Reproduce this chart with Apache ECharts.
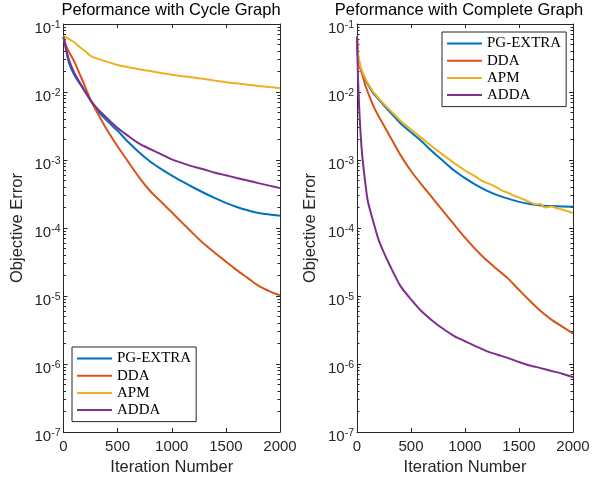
<!DOCTYPE html>
<html><head><meta charset="utf-8">
<script src="https://cdn.jsdelivr.net/npm/echarts@6/dist/echarts.min.js"></script>
<style>html,body{margin:0;padding:0;background:#fff}#c{width:592px;height:479px}</style>
</head><body><div id="c"></div>
<script>
const seriesNames = ['PG-EXTRA', 'DDA', 'APM', 'ADDA'];
const seriesColors = ['#0072BD', '#D95319', '#EDB120', '#7E2F8E'];
const titles = ['Peformance with Cycle Graph', 'Peformance with Complete Graph'];
const xTickValues = [0, 500, 1000, 1500, 2000];

// Left: cycle graph
const itersLeft = [0,20,50,100,150,200,250,300,400,500,600,700,800,900,1000,1100,1200,1300,1400,1500,1600,1700,1800,1900,2000];
const pgExtraLeft = [0.065,0.045,0.027,0.0178,0.0133,0.0100,0.0075,0.0057,0.0038,0.00269,0.00182,0.00129,0.00095,0.00074,0.00059,0.00048,0.000394,0.000327,0.000275,0.000234,0.000204,0.000182,0.000166,0.000158,0.000152];
const ddaLeft = [0.065,0.05,0.039,0.028,0.0183,0.0119,0.0077,0.0054,0.0028,0.00158,0.00093,0.00055,0.00035,0.000245,0.00017,0.000118,0.000082,0.000058,0.000043,0.000032,0.000024,0.0000185,0.0000142,0.0000118,0.0000102];
const apmLeft = [0.066,0.064,0.060,0.054,0.046,0.040,0.034,0.0315,0.028,0.025,0.0231,0.0216,0.0203,0.019,0.018,0.0171,0.0163,0.0155,0.0147,0.0139,0.0134,0.0128,0.0123,0.0118,0.0114];
const addaLeft = [0.065,0.046,0.030,0.019,0.0138,0.0102,0.0076,0.0060,0.00415,0.00295,0.00224,0.00174,0.00145,0.00122,0.00102,0.00090,0.00080,0.000725,0.00065,0.000595,0.000545,0.00050,0.000457,0.00042,0.000386];

// Right: complete graph
const itersRight = [0,5,10,20,35,50,75,100,150,200,250,300,400,500,600,700,800,900,1000,1100,1200,1300,1400,1500,1600,1700,1800,1900,2000];
const pgExtraRight = [0.065,0.042,0.034,0.027,0.022,0.019,0.0155,0.013,0.0096,0.0078,0.0063,0.0052,0.0035,0.00255,0.00187,0.00132,0.00096,0.0007,0.00054,0.00043,0.000355,0.000305,0.00027,0.000242,0.000225,0.000215,0.00021,0.000207,0.000206];
const addaRight = [0.065,0.03,0.015,0.006,0.0022,0.0011,0.00048,0.00025,0.000125,0.000067,0.000043,0.000029,0.0000142,0.0000089,0.0000059,0.0000043,0.00000327,0.00000257,0.00000216,0.00000182,0.00000155,0.00000137,0.00000122,0.00000107,0.00000095,0.00000087,0.00000079,0.00000072,0.00000064];
const itersDdaRight = [0,5,10,20,35,50,75,100,150,200,250,300,400,500,600,700,800,900,1000,1100,1200,1300,1380,1400,1500,1600,1700,1800,1900,2000];
const ddaRight = [0.065,0.04,0.032,0.026,0.021,0.0178,0.0128,0.0100,0.0063,0.0044,0.0032,0.0023,0.0012,0.00069,0.00043,0.000275,0.000175,0.000112,0.000072,0.000048,0.0000335,0.0000245,0.0000192,0.000018,0.0000123,0.0000085,0.000006,0.0000045,0.00000355,0.0000028];
const itersApmRight = [0,5,10,20,35,50,75,100,150,200,250,300,400,500,600,700,800,900,1000,1050,1100,1150,1200,1250,1300,1350,1400,1450,1500,1550,1600,1650,1700,1725,1750,1800,1850,1900,1950,2000];
const apmRight = [0.065,0.045,0.036,0.029,0.023,0.0198,0.016,0.0135,0.0100,0.0081,0.0066,0.0055,0.0038,0.0028,0.0021,0.00155,0.00118,0.0009,0.0007,0.00063,0.00057,0.0005,0.00046,0.00043,0.00039,0.00035,0.00033,0.0003,0.00028,0.00026,0.00024,0.000222,0.000225,0.000205,0.0002,0.000208,0.000195,0.000187,0.000176,0.000166];

const panels = [
  { iters: [itersLeft, itersLeft, itersLeft, itersLeft], values: [pgExtraLeft, ddaLeft, apmLeft, addaLeft], smooth: [0.25, 0.25, 0.15, 0.25] },
  { iters: [itersRight, itersDdaRight, itersApmRight, itersRight], values: [pgExtraRight, ddaRight, apmRight, addaRight], smooth: [0.25, 0.2, 0, 0.25] }
];

const minorLogTicks = [];
for (let e = -7; e < -1; e++) for (let k = 2; k <= 9; k++) minorLogTicks.push(e + Math.log10(k));

const axisColor = '#262626';
const grids = [
  { left: 63.5, top: 24, width: 216.5, height: 408 },
  { left: 357, top: 24, width: 216, height: 408 }
];
const titleCenters = [171, 459];
const legendPos = [{ left: 72, top: 347 }, { left: 442, top: 32 }];

const xAxes = [], yAxes = [], series = [], titleOpts = [], legends = [];
grids.forEach((g, gi) => {
  const line = { show: true, onZero: false, lineStyle: { color: axisColor, width: 1 } };
  xAxes.push({
    gridIndex: gi, type: 'value', position: 'bottom', min: 0, max: 2000, interval: 500,
    axisLine: line, splitLine: { show: false },
    axisTick: { inside: true, length: 4, lineStyle: { color: axisColor } },
    axisLabel: { margin: 7, color: axisColor, fontFamily: 'Liberation Sans', fontSize: 15, formatter: v => String(v) },
    name: 'Iteration Number', nameLocation: 'middle', nameGap: 23,
    nameTextStyle: { color: axisColor, fontFamily: 'Liberation Sans', fontSize: 16.5 }
  });
  xAxes.push({
    gridIndex: gi, type: 'value', position: 'top', min: 0, max: 2000, interval: 500,
    axisLine: line, splitLine: { show: false },
    axisTick: { inside: true, length: 4, lineStyle: { color: axisColor } },
    axisLabel: { show: false }
  });
  yAxes.push({
    gridIndex: gi, type: 'log', logBase: 10, position: 'left', min: 1e-7, max: 1e-1,
    axisLine: line, splitLine: { show: false }, minorTick: { show: false },
    axisTick: { inside: true, length: 4, lineStyle: { color: axisColor } },
    axisLabel: {
      margin: 3, color: axisColor, fontFamily: 'Liberation Sans',
      formatter: v => '{b|10}{s|' + Math.round(Math.log10(v)) + '}',
      rich: {
        b: { fontSize: 15, padding: [10, 0, 0, 0], verticalAlign: 'bottom', color: axisColor, fontFamily: 'Liberation Sans' },
        s: { fontSize: 10.5, padding: [0, 0, 6, 0], verticalAlign: 'bottom', color: axisColor, fontFamily: 'Liberation Sans' }
      }
    },
    name: 'Objective Error', nameLocation: 'middle', nameGap: 38,
    nameTextStyle: { color: axisColor, fontFamily: 'Liberation Sans', fontSize: 16.5 }
  });
  yAxes.push({
    gridIndex: gi, type: 'log', logBase: 10, position: 'right', min: 1e-7, max: 1e-1,
    axisLine: line, splitLine: { show: false },
    axisTick: { inside: true, length: 4, lineStyle: { color: axisColor } },
    axisLabel: { show: false }
  });
  ['left', 'right'].forEach(pos => {
    yAxes.push({
      gridIndex: gi, type: 'value', position: pos, min: -7, max: -1,
      axisLine: { show: false, onZero: false }, splitLine: { show: false }, axisLabel: { show: false },
      axisTick: { show: true, inside: true, length: 2.5, customValues: minorLogTicks, lineStyle: { color: axisColor } }
    });
  });
  titleOpts.push({
    text: titles[gi], left: titleCenters[gi], top: 2, textAlign: 'center', padding: 0,
    textStyle: { fontFamily: 'Liberation Sans', fontSize: 16.5, fontWeight: 'normal', color: '#000' }
  });
  legends.push({
    data: seriesNames.map(n => ({ name: n, icon: 'rect' })), orient: 'vertical',
    left: legendPos[gi].left, top: legendPos[gi].top,
    padding: [4, 5, 4, 5], itemWidth: 35, itemHeight: 2, itemGap: 2.2,
    borderColor: axisColor, borderWidth: 1, backgroundColor: '#fff', selectedMode: false, z: 10,
    textStyle: { fontFamily: 'Liberation Serif', fontSize: 15, color: '#000' }
  });
  const p = panels[gi];
  seriesNames.forEach((name, si) => {
    series.push({
      name, type: 'line', xAxisIndex: gi * 2, yAxisIndex: gi * 4,
      symbol: 'none', smooth: p.smooth[si],
      lineStyle: { width: 2, color: seriesColors[si] }, itemStyle: { color: seriesColors[si] },
      data: p.iters[si].map((x, i) => [x, p.values[si][i]])
    });
  });
});

const chart = echarts.init(document.getElementById('c'), null, { renderer: 'canvas' });
chart.setOption({
  backgroundColor: '#fff', animation: false,
  title: titleOpts, legend: legends,
  grid: grids.map(g => Object.assign({ outerBoundsMode: 'none', containLabel: false }, g)),
  xAxis: xAxes, yAxis: yAxes, series
});
</script></body></html>
